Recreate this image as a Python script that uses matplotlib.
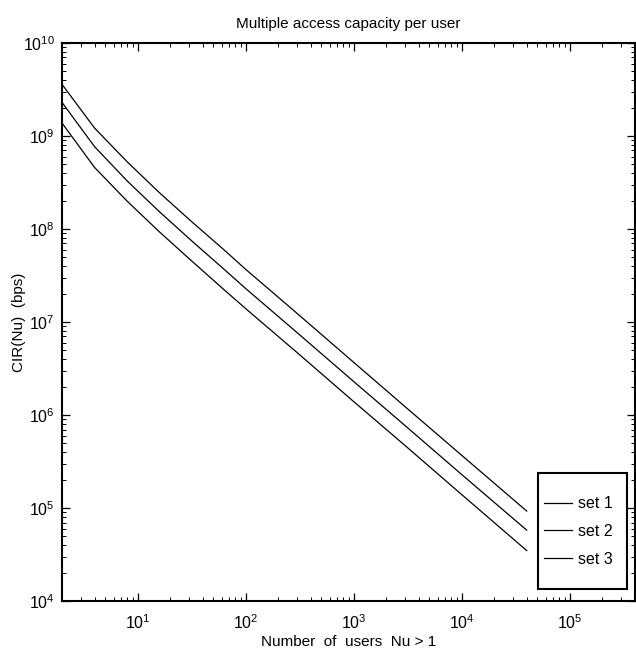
import matplotlib.pyplot as plt
import numpy as np
from matplotlib.patches import Rectangle
from matplotlib.ticker import LogLocator, NullFormatter

plt.rcParams["font.family"] = ["Liberation Sans", "DejaVu Sans"]

# number of users sampled along the curves
users = [2, 4, 8, 16, 32, 64, 100, 300, 1000, 3000, 10000, 40000]
# CIR(Nu) in bps
set1 = [3.6e9, 1.22e9, 5.3e8, 2.45e8, 1.19e8, 5.9e7, 3.7e7, 1.24e7, 3.7e6, 1.23e6, 3.7e5, 9.3e4]
set2 = [2.3e9, 7.7e8, 3.3e8, 1.53e8, 7.4e7, 3.65e7, 2.3e7, 7.7e6, 2.3e6, 7.7e5, 2.3e5, 5.8e4]
set3 = [1.38e9, 4.6e8, 2.0e8, 9.3e7, 4.5e7, 2.2e7, 1.4e7, 4.7e6, 1.4e6, 4.7e5, 1.4e5, 3.5e4]
labels = ["set 1", "set 2", "set 3"]

fig = plt.figure(figsize=(6.36, 6.52), dpi=100)
ax = fig.add_axes([0.0975, 0.078, 0.9005, 0.856])

for ys, lab in zip([set1, set2, set3], labels):
    ax.plot(users, ys, color="black", linewidth=0.9, label=lab)

ax.set_xscale("log")
ax.set_yscale("log")
ax.set_xlim(2, 4e5)
ax.set_ylim(1e4, 1e10)

ax.xaxis.set_major_locator(LogLocator(base=10, numticks=20))
ax.yaxis.set_major_locator(LogLocator(base=10, numticks=20))
ax.xaxis.set_minor_locator(LogLocator(base=10, subs=np.arange(2, 10), numticks=20))
ax.yaxis.set_minor_locator(LogLocator(base=10, subs=np.arange(2, 10), numticks=20))
ax.xaxis.set_minor_formatter(NullFormatter())
ax.yaxis.set_minor_formatter(NullFormatter())

ax.tick_params(which="both", direction="in", top=True, right=True, labelsize=11.5)
ax.tick_params(which="major", length=6, width=0.9)
ax.tick_params(axis="x", which="major", pad=9)
ax.tick_params(axis="y", which="major", pad=5)
ax.tick_params(which="minor", length=3, width=0.7)
for sp in ax.spines.values():
    sp.set_linewidth(1.5)

ax.set_title("Multiple access capacity per user", fontsize=11, pad=11)
ax.set_xlabel("Number  of  users  Nu > 1", fontsize=11, labelpad=2)
ax.set_ylabel("CIR(Nu)  (bps)", fontsize=11, labelpad=-2)

# legend box: MATLAB style, taller than its entries
ax.add_patch(Rectangle((0.8307, 0.0215), 0.1553, 0.2079, transform=ax.transAxes,
                       facecolor="white", edgecolor="black", linewidth=1.5, zorder=4))
leg = ax.legend(loc="center left", bbox_to_anchor=(0.841, 0.125), borderaxespad=0,
                frameon=False, fontsize=11.5, handlelength=1.75, handletextpad=0.4,
                borderpad=0, labelspacing=0.8)
leg.set_zorder(5)

fig.savefig("out.png", dpi=100)
